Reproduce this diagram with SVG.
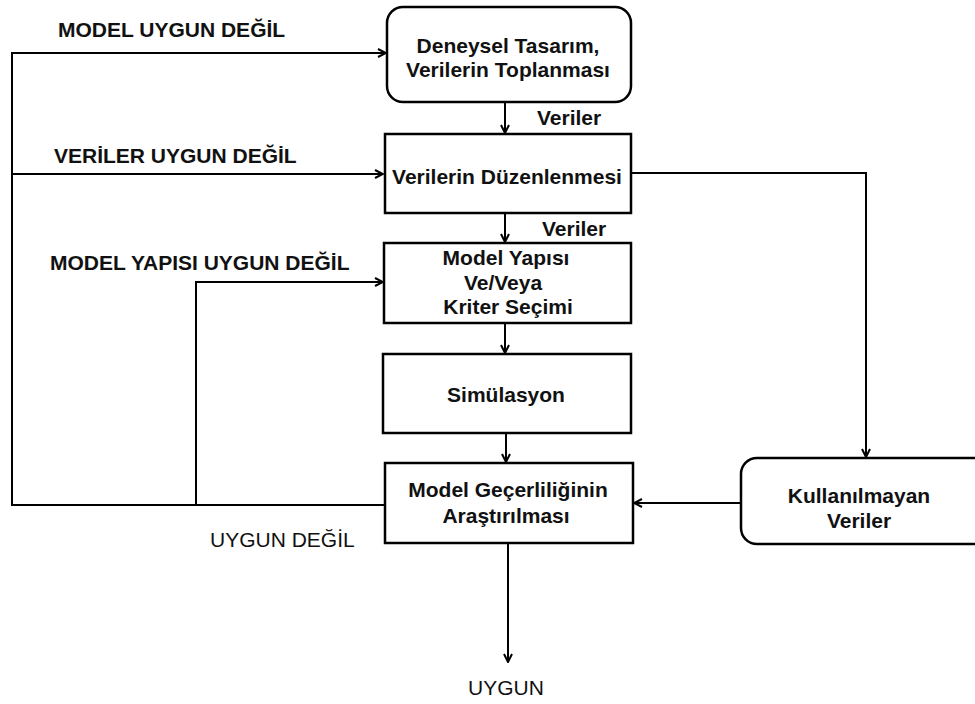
<svg xmlns="http://www.w3.org/2000/svg" width="975" height="704" viewBox="0 0 975 704">
<style>
.box{fill:#fff;stroke:#000;stroke-width:2.5}
.ln{fill:none;stroke:#000;stroke-width:2}
.t{font-family:"Liberation Sans",Arial,sans-serif;font-size:21px;font-weight:bold;fill:#111;text-anchor:middle}
.lb{font-family:"Liberation Sans",Arial,sans-serif;font-size:21px;font-weight:bold;fill:#111}
.lr{font-family:"Liberation Sans",Arial,sans-serif;font-size:21px;fill:#111}
</style>
<defs>
<marker id="ah" viewBox="0 0 10 10" refX="9" refY="5" markerWidth="10" markerHeight="10" markerUnits="userSpaceOnUse" orient="auto">
<path d="M1,1 L9,5 L1,9" fill="none" stroke="#000" stroke-width="2"/>
</marker>
</defs>
<rect width="975" height="704" fill="#fff"/>
<g id="connectors">
<path class="ln" d="M505,102 V133" marker-end="url(#ah)"/>
<path class="ln" d="M505,213 V242" marker-end="url(#ah)"/>
<path class="ln" d="M505,323 V353" marker-end="url(#ah)"/>
<path class="ln" d="M506,433 V462" marker-end="url(#ah)"/>
<path class="ln" d="M508,543 V662" marker-end="url(#ah)"/>
<path class="ln" d="M385,505 H12 V53 H386" marker-end="url(#ah)"/>
<path class="ln" d="M12,174 H383" marker-end="url(#ah)"/>
<path class="ln" d="M196,505 V282 H383" marker-end="url(#ah)"/>
<path class="ln" d="M631,173 H866 V457" marker-end="url(#ah)"/>
<path class="ln" d="M741,503 H634" marker-end="url(#ah)"/>
</g>
<g id="labels">
<text class="lb" x="58" y="37">MODEL UYGUN DEĞİL</text>
<text class="lb" x="54" y="163">VERİLER UYGUN DEĞİL</text>
<text class="lb" x="50" y="270">MODEL YAPISI UYGUN DEĞİL</text>
<text class="lr" x="210" y="547">UYGUN DEĞİL</text>
<text class="lb" x="537" y="125">Veriler</text>
<text class="lb" x="542" y="236">Veriler</text>
<text class="lr" x="506" y="695" text-anchor="middle">UYGUN</text>
</g>
<g id="n1">
<rect class="box" x="387" y="7" width="244" height="95" rx="16"/>
<text class="t" x="508" y="53">Deneysel Tasarım,</text>
<text class="t" x="508" y="77">Verilerin Toplanması</text>
</g>
<g id="n2">
<rect class="box" x="385" y="134" width="246" height="79"/>
<text class="t" x="507" y="184">Verilerin Düzenlenmesi</text>
</g>
<g id="n3">
<rect class="box" x="384" y="243" width="247" height="80"/>
<text class="t" x="506" y="265">Model Yapısı</text>
<text class="t" x="503" y="290">Ve/Veya</text>
<text class="t" x="508" y="314">Kriter Seçimi</text>
</g>
<g id="n4">
<rect class="box" x="383" y="354" width="248" height="79"/>
<text class="t" x="506" y="402">Simülasyon</text>
</g>
<g id="n5">
<rect class="box" x="385" y="463" width="248" height="80"/>
<text class="t" x="508" y="497">Model Geçerliliğinin</text>
<text class="t" x="506" y="523">Araştırılması</text>
</g>
<g id="n6">
<rect class="box" x="741" y="458" width="250" height="86" rx="16"/>
<text class="t" x="859" y="503">Kullanılmayan</text>
<text class="t" x="859" y="528">Veriler</text>
</g>
</svg>
